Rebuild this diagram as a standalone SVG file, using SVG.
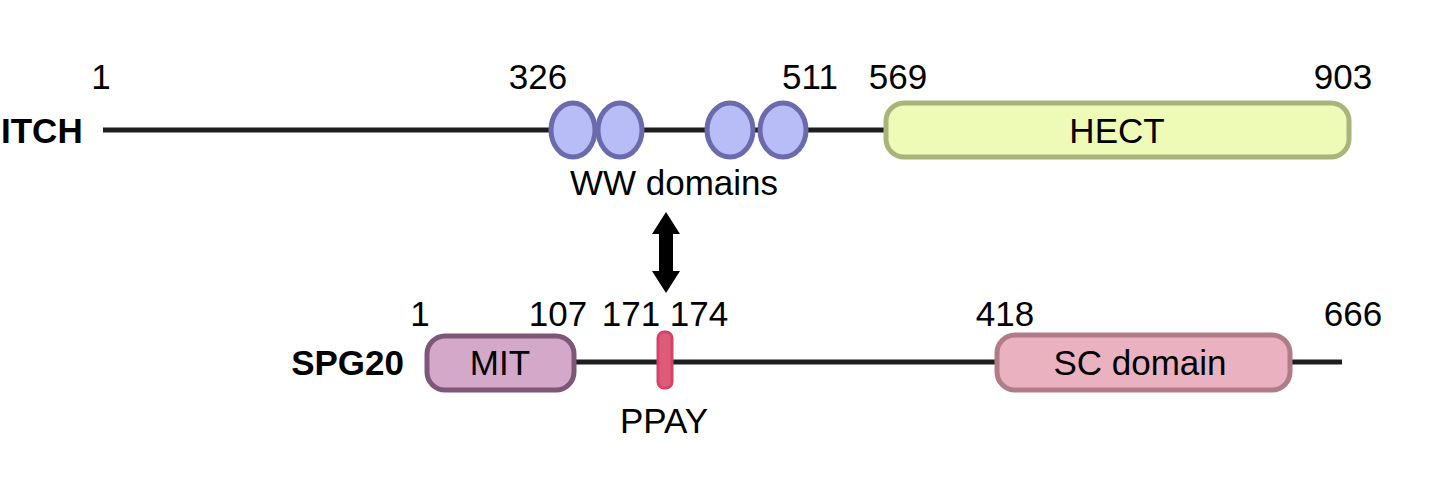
<svg xmlns="http://www.w3.org/2000/svg" width="1446" height="488" viewBox="0 0 1446 488">
<style>
text{font-family:"Liberation Sans",Arial,sans-serif;font-size:35px;fill:#000}
.b{font-weight:bold}
.m{text-anchor:middle}
.bb{stroke:#1e1e1e;stroke-width:5}
.ww{fill:#b9bdf7;stroke:#6a6aad;stroke-width:5}
</style>
<rect width="1446" height="488" fill="#fff"/>
<g id="connectors">
<line class="bb" x1="103" y1="130" x2="888" y2="130"/>
<line class="bb" x1="575" y1="362" x2="1342" y2="362"/>
<path d="M666 212 L680 234 L673 234 L673 271 L680 271 L666 293 L652 271 L659 271 L659 234 L652 234 Z" fill="#000"/>
</g>
<g id="itch-label"><text class="b" x="1" y="143">ITCH</text></g>
<g id="itch-numbers">
<text class="m" x="101" y="89">1</text>
<text class="m" x="538" y="89">326</text>
<text class="m" x="810" y="89">511</text>
<text class="m" x="898" y="89">569</text>
<text class="m" x="1343" y="89">903</text>
</g>
<g id="ww-domains">
<ellipse class="ww" cx="573" cy="130" rx="22" ry="27"/>
<ellipse class="ww" cx="620" cy="130" rx="22" ry="27"/>
<ellipse class="ww" cx="730" cy="130" rx="23" ry="27"/>
<ellipse class="ww" cx="783" cy="130" rx="23" ry="27"/>
<text class="m" x="674" y="195">WW domains</text>
</g>
<g id="hect">
<rect x="886" y="103" width="463" height="54" rx="18" fill="#eefbb6" stroke="#a8b47a" stroke-width="5"/>
<text class="m" x="1117" y="143">HECT</text>
</g>
<g id="spg20-label"><text class="b" x="404" y="375" text-anchor="end">SPG20</text></g>
<g id="spg20-numbers">
<text class="m" x="420" y="326">1</text>
<text class="m" x="558" y="326">107</text>
<text class="m" x="631" y="326">171</text>
<text class="m" x="699" y="326">174</text>
<text class="m" x="1005" y="326">418</text>
<text class="m" x="1353" y="326">666</text>
</g>
<g id="mit">
<rect x="427" y="336" width="147" height="54" rx="18" fill="#d4a8c8" stroke="#7d5777" stroke-width="5"/>
<text class="m" x="500" y="375">MIT</text>
</g>
<g id="ppay">
<rect x="658" y="332" width="14" height="56" rx="6" fill="#e05a7a" stroke="#d4446a" stroke-width="3"/>
<text class="m" x="664" y="433">PPAY</text>
</g>
<g id="sc-domain">
<rect x="997" y="335" width="293" height="55" rx="18" fill="#eab2c0" stroke="#b07c88" stroke-width="5"/>
<text class="m" x="1140" y="375">SC domain</text>
</g>
</svg>
